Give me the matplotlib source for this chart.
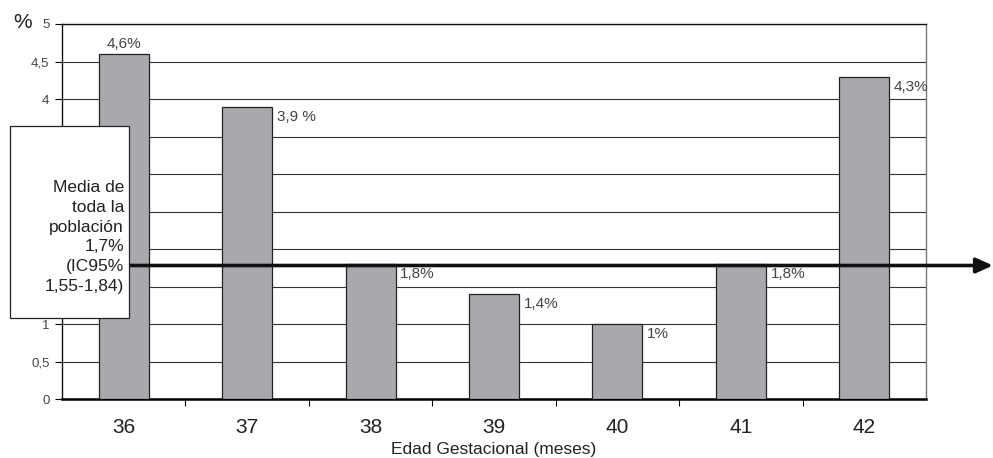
import matplotlib.pyplot as plt
from matplotlib.patches import Rectangle

plt.rcParams['font.family'] = ['Liberation Sans Narrow', 'Liberation Sans', 'DejaVu Sans']

# datos
edades = ['36', '37', '38', '39', '40', '41', '42']
valores = [4.6, 3.9, 1.8, 1.4, 1.0, 1.8, 4.3]
etiquetas = ['4,6%', '3,9 %', '1,8%', '1,4%', '1%', '1,8%', '4,3%']
media_linea = 1.78
yticks = [0, 0.5, 1, 1.5, 2, 2.5, 3, 3.5, 4, 4.5, 5]
# las etiquetas de 1,5 a 3,5 quedan tapadas por la caja en el original
ytick_labels = ['0', '0,5', '1', '', '', '', '', '', '4', '4,5', '5']
texto_caja = 'Media de\ntoda la\npoblación\n1,7%\n(IC95%\n1,55-1,84)'

fig = plt.figure(figsize=(9.93, 4.58), dpi=100)
ax = fig.add_axes([0.0624, 0.1288, 0.8701, 0.8188])

x = list(range(len(edades)))
ax.bar(x, valores, width=0.405, color='#a8a9ad', edgecolor='#222222', linewidth=0.9, zorder=3)

ax.set_xlim(-0.5, len(edades) - 0.5)
ax.set_ylim(0, 5)
ax.set_yticks(yticks)
ax.set_yticklabels(ytick_labels, fontsize=9.5, color='#444444')
ax.yaxis.grid(True, color='#333333', linewidth=0.8, zorder=0)

# ticks del eje x en los limites de categoria
ax.set_xticks([i - 0.5 for i in range(1, len(edades))], minor=True)
ax.set_xticks(x)
ax.set_xticklabels(edades, fontsize=15, color='#222222')
ax.tick_params(axis='x', which='major', length=0, pad=14)
ax.tick_params(axis='x', which='minor', length=5, width=0.8, direction='out')
ax.tick_params(axis='y', length=5, width=0.8, direction='out', pad=4)
ax.set_xlabel('Edad Gestacional (meses)', fontsize=12.5, labelpad=3, color='#222222')

for s in ['left', 'top']:
    ax.spines[s].set_color('#111111')
    ax.spines[s].set_linewidth(1.0)
ax.spines['bottom'].set_linewidth(1.8)
ax.spines['right'].set_color('#777777')
ax.spines['right'].set_linewidth(1.0)

# etiquetas de valores
for i, (v, lab) in enumerate(zip(valores, etiquetas)):
    if i == 0:
        ax.text(i, v + 0.04, lab, ha='center', va='bottom', fontsize=11, color='#444444', zorder=4)
    else:
        ax.text(i + 0.24, v - 0.04, lab, ha='left', va='top', fontsize=11, color='#444444', zorder=4)

ax.text(-0.035, 1.005, '%', transform=ax.transAxes, fontsize=15, color='#222222', ha='right', va='center')

# flecha de la media
tr = ax.get_yaxis_transform()
ax.annotate('', xy=(1.0775, media_linea), xytext=(0.078, media_linea),
            xycoords=tr, textcoords=tr, annotation_clip=False,
            arrowprops=dict(arrowstyle='-|>,head_length=1.0,head_width=0.45',
                            color='#111111', lw=2.6, shrinkA=0, shrinkB=0), zorder=6)

# caja de texto
caja = Rectangle((0.0101, 0.3057), 0.1198, 0.4192, transform=fig.transFigure,
                 facecolor='white', edgecolor='#222222', linewidth=0.9, zorder=5)
fig.patches.append(caja)
fig.text(0.1248, 0.4825, texto_caja, ha='right', va='center', fontsize=12.5,
         linespacing=1.4, color='#222222', zorder=6)

plt.savefig('out.png', dpi=100)
